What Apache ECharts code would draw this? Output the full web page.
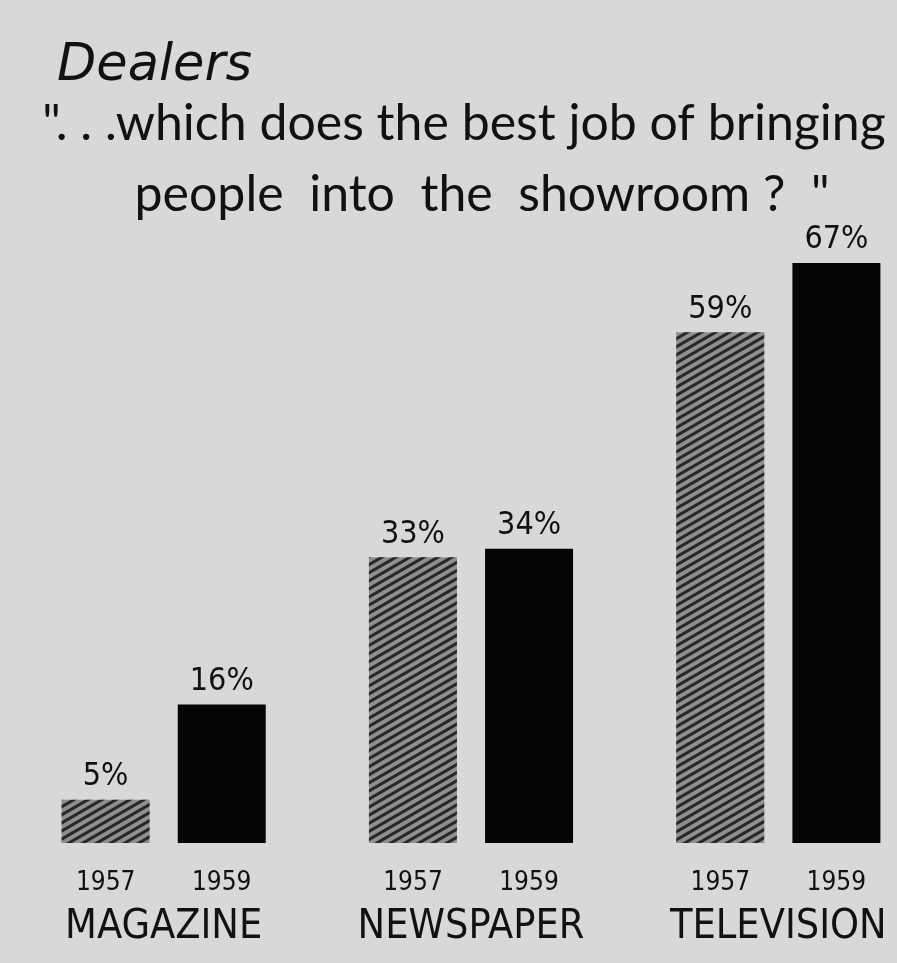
<!DOCTYPE html>
<html><head><meta charset="utf-8">
<script src="https://cdn.jsdelivr.net/npm/echarts@6/dist/echarts.min.js"></script>
<style>html,body{margin:0;padding:0;background:#d8d8d6}#c{width:897px;height:963px}</style>
</head><body><div id="c"></div>
<script>
const categories = ['MAGAZINE', 'NEWSPAPER', 'TELEVISION'];
const years = ['1957', '1959'];
const values1957 = [5, 33, 59];
const values1959 = [16, 34, 67];
const titleText = 'Dealers';
const subtitleLines = ['". . .which does the best job of bringing', 'people  into  the  showroom ?  "'];

const chart = echarts.init(document.getElementById('c'));
const FONT = 'Lato, "DejaVu Sans", sans-serif';
const COND = '"DejaVu Sans Condensed", "DejaVu Sans", sans-serif';
chart.setOption({
  backgroundColor: '#d8d8d6',
  animation: false,
  title: {
    text: titleText, left: 52, top: 36,
    textStyle: { fontFamily: '"DejaVu Sans", sans-serif', fontStyle: 'italic', fontWeight: 'normal', fontSize: 51, color: '#111' }
  },
  graphic: [
    { type: 'text', x: 464, y: 99, style: { text: subtitleLines[0], font: 'normal 50px ' + FONT, fill: '#111', textAlign: 'center' } },
    { type: 'text', x: 482, y: 170, style: { text: subtitleLines[1], font: 'normal 50px ' + FONT, fill: '#111', textAlign: 'center' } }
  ],
  grid: { left: 10, width: 922, top: 263, bottom: 120, containLabel: false, outerBoundsMode: 'none' },
  xAxis: {
    type: 'category', data: categories,
    axisLine: { show: false }, axisTick: { show: false },
    axisLabel: {
      margin: 18, interval: 0,
      formatter: v => `{y|${years[0]}}{y|${years[1]}}\n{c|${v}}`,
      rich: {
        y: { width: 116, align: 'center', fontFamily: COND, fontSize: 26, color: '#111', lineHeight: 44 },
        c: { fontFamily: COND, fontSize: 41, color: '#111', lineHeight: 44 }
      }
    }
  },
  yAxis: { type: 'value', min: 0, max: 67, show: false, splitLine: { show: false } },
  series: [
    {
      name: years[0], type: 'bar', data: values1957, barWidth: 88, barGap: '32%',
      itemStyle: {
        color: '#8e8e8e',
        decal: { symbol: 'rect', symbolSize: 1, dashArrayX: [1, 0], dashArrayY: [3, 4], rotation: -Math.PI / 6, color: '#262626' }
      },
      label: { show: true, position: 'top', distance: 7, formatter: '{c}%', fontFamily: COND, fontSize: 32, color: '#111' }
    },
    {
      name: years[1], type: 'bar', data: values1959, barWidth: 88,
      itemStyle: { color: '#050505' },
      label: { show: true, position: 'top', distance: 7, formatter: '{c}%', fontFamily: COND, fontSize: 32, color: '#111' }
    }
  ]
});
</script></body></html>
